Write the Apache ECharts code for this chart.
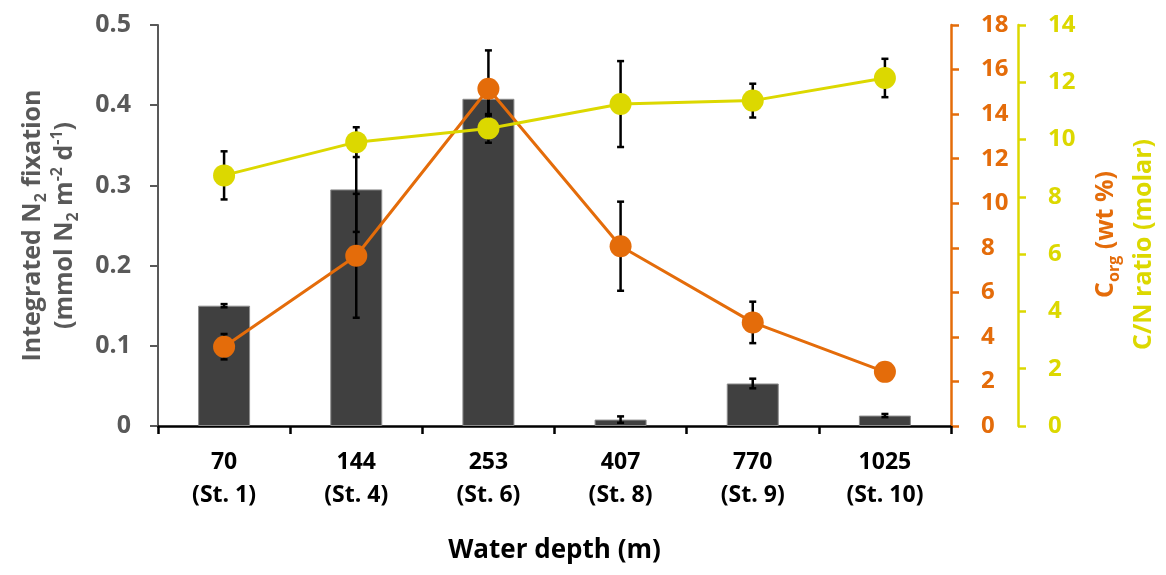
<!DOCTYPE html>
<html>
<head>
<meta charset="utf-8">
<script src="https://cdn.jsdelivr.net/npm/echarts@6/dist/echarts.min.js"></script>
<style>html,body{margin:0;padding:0;background:#fff;}#c{width:1166px;height:575px;}</style>
</head>
<body>
<div id="c"></div>
<script>
const depths = ['70', '144', '253', '407', '770', '1025'];
const stations = ['St. 1', 'St. 4', 'St. 6', 'St. 8', 'St. 9', 'St. 10'];
const n2Fix = [0.150, 0.295, 0.408, 0.008, 0.053, 0.013];
const n2FixErr = [0.002, 0.053, 0.021, 0.004, 0.006, 0.002];
const corg = [3.56, 7.64, 15.14, 8.07, 4.65, 2.43];
const corgErr = [0.57, 2.78, 1.72, 2.0, 0.93, 0];
const cnRatio = [8.75, 9.91, 10.39, 11.24, 11.36, 12.15];
const cnErr = [0.84, 0.52, 0.5, 1.5, 0.59, 0.67];

const FONT = 'Open Sans';
const ORANGE = '#E46C0A';
const YELLOW = '#DCD800';
const GRAY = '#595959';

const categories = depths.map((d, i) => d + '\n(' + stations[i] + ')');

function errRender(params, api) {
  const x = api.value(0), v = api.value(1), e = api.value(2);
  if (!e) return null;
  const hi = api.coord([x, v + e]);
  const lo = api.coord([x, v - e]);
  const w = 3.5;
  const st = { stroke: '#000', lineWidth: 2.5 };
  return {
    type: 'group',
    children: [
      { type: 'line', shape: { x1: hi[0], y1: hi[1], x2: lo[0], y2: lo[1] }, style: st },
      { type: 'line', shape: { x1: hi[0] - w, y1: hi[1], x2: hi[0] + w, y2: hi[1] }, style: st },
      { type: 'line', shape: { x1: lo[0] - w, y1: lo[1], x2: lo[0] + w, y2: lo[1] }, style: st }
    ]
  };
}

const chart = echarts.init(document.getElementById('c'), null, { renderer: 'canvas' });
const subRich = {
  sub: { fontSize: 16, lineHeight: 16, verticalAlign: 'bottom', fontWeight: 'bold', fontFamily: FONT },
  sup: { fontSize: 16, lineHeight: 16, verticalAlign: 'top', fontWeight: 'bold', fontFamily: FONT }
};
chart.setOption({
  animation: false,
  backgroundColor: '#fff',
  textStyle: { fontFamily: FONT },
  grid: { left: 158, right: 215, top: 25, bottom: 149 },
  xAxis: {
    type: 'category',
    data: categories,
    axisLine: { lineStyle: { color: '#000', width: 2.5 } },
    axisTick: { show: true, length: 8, lineStyle: { color: '#000', width: 2.5 } },
    axisLabel: { color: '#000', fontSize: 23, fontWeight: 'bold', fontFamily: FONT, lineHeight: 33, margin: 20 },
    name: 'Water depth (m)',
    nameLocation: 'middle',
    nameGap: 112,
    nameTextStyle: { color: '#000', fontSize: 26, fontWeight: 'bold', fontFamily: FONT }
  },
  yAxis: [
    {
      type: 'value', min: 0, max: 0.5, interval: 0.1, position: 'left',
      splitLine: { show: false },
      axisLine: { show: true, lineStyle: { color: GRAY, width: 2 } },
      axisTick: { show: true, length: 8, lineStyle: { color: GRAY, width: 2 } },
      axisLabel: { color: GRAY, fontSize: 25, fontWeight: 'bold', fontFamily: FONT, margin: 27 },
      name: 'Integrated N{sub|2} fixation\n(mmol N{sub|2} m{sup|-2} d{sup|-1})',
      nameLocation: 'middle', nameRotate: 90, nameGap: 77,
      nameTextStyle: {
        color: GRAY, fontSize: 25, fontWeight: 'bold', fontFamily: FONT, lineHeight: 32,
        rich: Object.assign({}, subRich)
      }
    },
    {
      type: 'value', min: 0, max: 18, interval: 2, position: 'right', offset: 0,
      splitLine: { show: false },
      axisLine: { show: true, lineStyle: { color: ORANGE, width: 2.5 } },
      axisTick: { show: true, length: 8, lineStyle: { color: ORANGE, width: 2.5 } },
      axisLabel: { color: ORANGE, fontSize: 24, fontWeight: 'bold', fontFamily: FONT, margin: 30 },
      name: 'C{sub|org} (wt %)',
      nameLocation: 'middle', nameRotate: 90, nameGap: 139,
      nameTextStyle: {
        color: ORANGE, fontSize: 25, fontWeight: 'bold', fontFamily: FONT, lineHeight: 32,
        padding: [0, 18, 0, 0],
        rich: Object.assign({}, subRich)
      }
    },
    {
      type: 'value', min: 0, max: 14, interval: 2, position: 'right', offset: 67,
      splitLine: { show: false },
      axisLine: { show: true, lineStyle: { color: YELLOW, width: 2.5 } },
      axisTick: { show: true, length: 8, lineStyle: { color: YELLOW, width: 2.5 } },
      axisLabel: { color: YELLOW, fontSize: 24, fontWeight: 'bold', fontFamily: FONT, margin: 30 },
      name: 'C/N ratio (molar)',
      nameLocation: 'middle', nameRotate: 90, nameGap: 113,
      nameTextStyle: { color: YELLOW, fontSize: 25, fontWeight: 'bold', fontFamily: FONT, padding: [0, 38, 0, 0] }
    }
  ],
  series: [
    {
      name: 'N2 fixation', type: 'bar', yAxisIndex: 0, data: n2Fix, barWidth: 52, z: 1,
      itemStyle: { color: '#404040', borderColor: '#8c8c8c', borderWidth: 1 }
    },
    {
      type: 'custom', yAxisIndex: 0, z: 2, renderItem: errRender,
      encode: { x: 0, y: 1 },
      data: n2Fix.map((v, i) => [i, v, n2FixErr[i]])
    },
    {
      type: 'custom', yAxisIndex: 1, z: 2, renderItem: errRender,
      encode: { x: 0, y: 1 },
      data: corg.map((v, i) => [i, v, corgErr[i]])
    },
    {
      type: 'custom', yAxisIndex: 2, z: 2, renderItem: errRender,
      encode: { x: 0, y: 1 },
      data: cnRatio.map((v, i) => [i, v, cnErr[i]])
    },
    {
      name: 'Corg', type: 'line', yAxisIndex: 1, data: corg, z: 3,
      symbol: 'circle', symbolSize: 22,
      lineStyle: { color: ORANGE, width: 3 },
      itemStyle: { color: ORANGE }
    },
    {
      name: 'C/N', type: 'line', yAxisIndex: 2, data: cnRatio, z: 3,
      symbol: 'circle', symbolSize: 22,
      lineStyle: { color: YELLOW, width: 3 },
      itemStyle: { color: YELLOW }
    }
  ]
});
</script>
</body>
</html>
